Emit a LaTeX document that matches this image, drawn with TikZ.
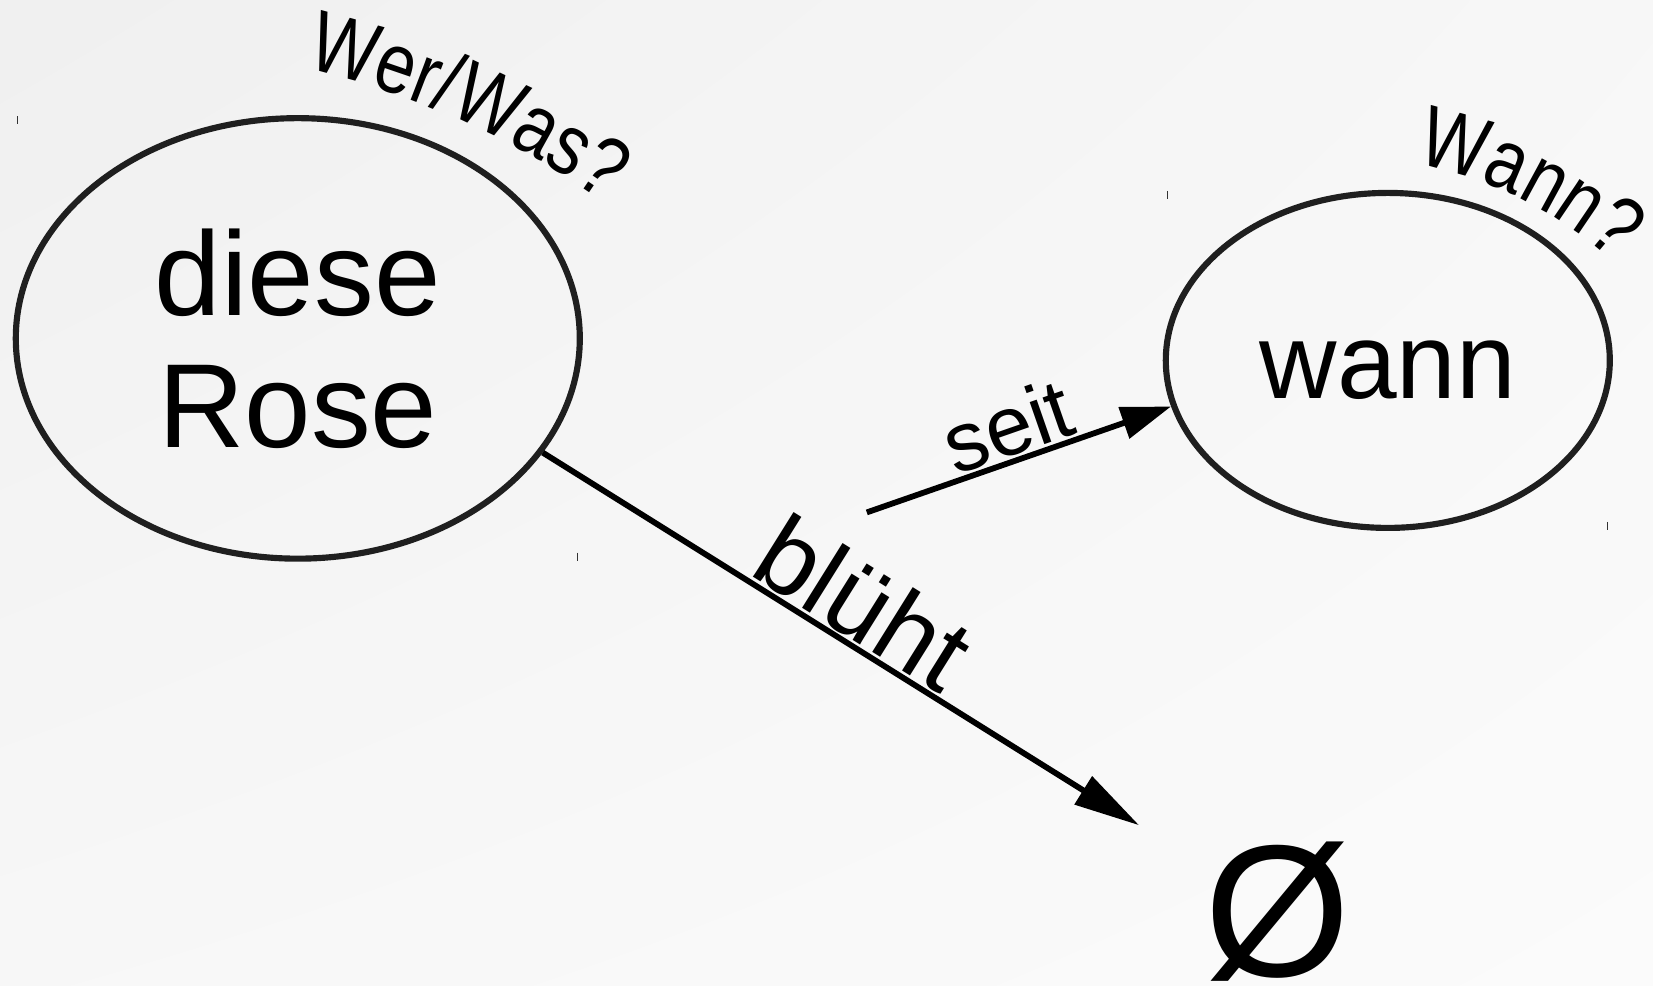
\documentclass[tikz,border=0pt]{standalone}
\usepackage{fontspec}
\setmainfont{Liberation Sans}
\newfontfamily\fragefont[FakeStretch=0.82]{Liberation Sans}
\usetikzlibrary{arrows.meta,positioning,shapes.geometric,decorations.text,shadings}
\pgfdeclarelayer{background}
\pgfsetlayers{background,main}

\begin{document}
\begin{tikzpicture}[node distance=2cm,on grid,auto,
    phrase/.style={ellipse,draw=black!88,line width=3.5pt,inner sep=0pt,align=center},
    leer/.style={circle,minimum size=6.54cm,inner sep=0pt,outer sep=0pt,
      font=\fontsize{107}{107}\selectfont},
    rel/.style={line width=3.3pt},
    tickmark/.style={line width=.6pt,black!80},
    frage/.style={decorate,decoration={text along path,text align=center,
      text={|\fragefont\fontsize{49}{49}\selectfont|#1}}}]
   \node[phrase,minimum width=11.28cm,minimum height=8.81cm,
      font=\fontsize{68}{75}\selectfont] (rose) {diese\\Rose};
   \useasboundingbox ([shift={(-5.956,6.768)}]rose.center) rectangle ([shift={(27.104,-12.932)}]rose.center);
   \node[phrase,minimum width=8.88cm,minimum height=6.70cm,
      font=\fontsize{61}{61}\selectfont,text height=1.52cm,text depth=0pt] (wann)
      [below right=0.44cm and 21.8cm of rose] {wann};
   \node[leer] (empty) [below right=11.47cm and 19.6cm of rose] {Ø};
   \coordinate[below right=3.48cm and 11.38cm of rose] (seitstart);

   \draw[rel,-{Triangle[length=1.32cm,width=0.64cm]}] (rose.-25.6) -- (empty)
      node[pos=.5,sloped,above,inner sep=1pt,font=\fontsize{60}{60}\selectfont] {blüht};
   \draw[rel,-{Triangle[length=1cm,width=0.64cm]}] (seitstart) -- (wann.192)
      node[pos=.5,sloped,above,inner sep=1pt,font=\fontsize{48}{48}\selectfont] {seit};

   % question labels on flat arcs over the ellipses
   \path[frage=Wer/Was?] ([shift={(-3.60,-10.93)}]rose.center) ++(86.8:16.76)
      arc[start angle=86.8,end angle=44.8,radius=16.76];
   \path[frage=Wann?] ([shift={(-0.88,-3.89)}]wann.center) ++(89.5:7.95)
      arc[start angle=89.5,end angle=37.5,radius=7.95];

   \foreach \e in {rose,wann}
     \draw[tickmark] ([shift={(.1,-.02)}]\e.west |- \e.north) -- ([shift={(.1,-.18)}]\e.west |- \e.north)
       ([shift={(-.1,.18)}]\e.east |- \e.south) -- ([shift={(-.1,.02)}]\e.east |- \e.south);

   \begin{pgfonlayer}{background}
     \shade[upper left=black!6,upper right=black!3,lower left=black!3,lower right=black!1.6]
       ([shift={(-5.956,6.768)}]rose.center) rectangle ([shift={(27.104,-12.932)}]rose.center);
   \end{pgfonlayer}
\end{tikzpicture}
\end{document}
